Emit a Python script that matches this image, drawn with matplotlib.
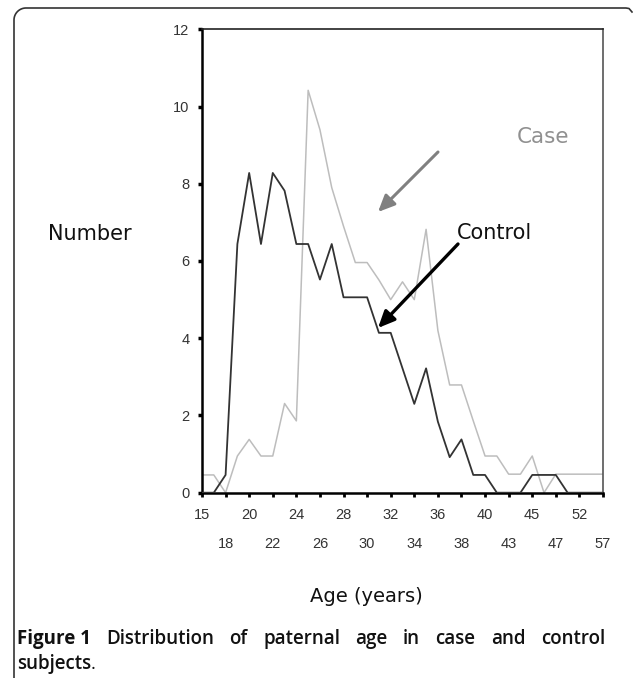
import numpy as np
import matplotlib
matplotlib.use("Agg")
from matplotlib import pyplot as plt

# age categories (categorical x axis, every other one labelled)
ages = ["15", "17", "18", "19", "20", "21", "22", "23", "24", "25", "26", "27",
        "28", "29", "30", "31", "32", "33", "34", "35", "36", "37", "38", "39",
        "40", "42", "43", "44", "45", "46", "47", "50", "52", "55", "57"]

control = [0, 0, 0.46, 6.44, 8.28, 6.44, 8.28, 7.82, 6.44, 6.44, 5.52, 6.44,
           5.06, 5.06, 5.06, 4.14, 4.14, 3.22, 2.30, 3.22, 1.84, 0.92, 1.38, 0.46,
           0.46, 0, 0, 0, 0.46, 0.46, 0.46, 0, 0, 0, 0]

case = [0.46, 0.46, 0, 0.95, 1.38, 0.95, 0.95, 2.31, 1.86, 10.42, 9.4, 7.9,
        6.9, 5.96, 5.96, 5.51, 5.0, 5.46, 5.0, 6.82, 4.2, 2.79, 2.79, 1.86,
        0.95, 0.95, 0.48, 0.48, 0.95, 0, 0.48, 0.48, 0.48, 0.48, 0.48]

W, H = 633, 678
fig = plt.figure(figsize=(W / 100, H / 100), dpi=100)
ax = fig.add_axes([202 / W, 1 - 492.7 / H, 401 / W, 463.4 / H])

x = np.arange(len(ages))
ax.plot(x, case, color="#bdbdbd", lw=1.1, zorder=2)
ax.plot(x, control, color="#333333", lw=1.3, zorder=3)

ax.set_xlim(0, len(ages) - 1)
ax.set_ylim(0, 12)

tick_font = "Liberation Sans"
ax.set_yticks(range(0, 13, 2))
ax.tick_params(axis="y", direction="out", length=3, width=2.5, pad=6,
               labelsize=10.5, colors="black", labelcolor="#333333")

# two rows of x labels
top = x[0::4]
bottom = x[2::4]
ax.set_xticks(top)
ax.set_xticklabels([ages[i] for i in top])
ax.set_xticks(bottom, minor=True)
ax.set_xticklabels([ages[i] for i in bottom], minor=True)
ax.tick_params(axis="x", which="major", direction="out", length=3, width=2,
               pad=8, labelsize=10.5, labelcolor="#333333")
ax.tick_params(axis="x", which="minor", direction="out", length=3, width=2,
               pad=29, labelsize=10.5, labelcolor="#333333")
for lbl in ax.get_xticklabels(which="both") + ax.get_yticklabels():
    lbl.set_family(tick_font)

for s in ["left", "bottom"]:
    ax.spines[s].set_linewidth(1.8)
    ax.spines[s].set_color("black")
ax.spines["top"].set_linewidth(1.2)
ax.spines["top"].set_color("#222222")
ax.spines["right"].set_linewidth(1.2)
ax.spines["right"].set_color("#555555")


def fx(px):
    return px / W


def fy(py):
    return 1 - py / H


lab_font = "DejaVu Sans"
fig.text(fx(90), fy(234), "Number", fontsize=15, family=lab_font,
         ha="center", va="center", color="#111111")
fig.text(fx(366), fy(597), "Age (years)", fontsize=14, family=lab_font,
         ha="center", va="center", color="#111111")
fig.text(fx(543), fy(137), "Case", fontsize=15.5, family=lab_font,
         ha="center", va="center", color="#909090")
fig.text(fx(494), fy(233), "Control", fontsize=15, family=lab_font,
         ha="center", va="center", color="#111111")

# arrows
ax.annotate("", xy=(fx(378), fy(212)), xytext=(fx(438), fy(152)),
            xycoords="figure fraction", textcoords="figure fraction",
            arrowprops=dict(arrowstyle="-|>,head_length=1.0,head_width=0.45",
                            color="#808080", lw=2.2, shrinkA=0, shrinkB=0))
ax.annotate("", xy=(fx(378), fy(328)), xytext=(fx(458), fy(244)),
            xycoords="figure fraction", textcoords="figure fraction",
            arrowprops=dict(arrowstyle="-|>,head_length=1.0,head_width=0.45",
                            color="black", lw=2.4, shrinkA=0, shrinkB=0))

# frame
r = 12
t = np.linspace(np.pi, np.pi / 2, 20)
fx_pts = [14] + list(14 + r + r * np.cos(t)) + [626]
fy_pts = [H] + list(8 + r - r * np.sin(t)) + [8]
fx_pts += [629, 632]
fy_pts += [8.5, 12]
fig.add_artist(plt.Line2D([fx(p) for p in fx_pts], [fy(p) for p in fy_pts],
                          transform=fig.transFigure, color="#333333", lw=1.2))

# caption
cap_font = ["Open Sans", "DejaVu Sans"]
cap_size = 13.5
line1 = ["Distribution", "of", "paternal", "age", "in", "case", "and", "control"]
fig.canvas.draw()
rend = fig.canvas.get_renderer()
t0 = fig.text(fx(17), fy(644), "Figure 1", fontsize=cap_size, family=cap_font,
              weight="bold", color="#111111", va="baseline")
words = [fig.text(0, fy(644), w, fontsize=cap_size, family=cap_font,
                  weight="semibold", color="#111111", va="baseline") for w in line1]
w0 = t0.get_window_extent(rend).width
widths = [w.get_window_extent(rend).width for w in words]
gap = (605 - 17 - w0 - sum(widths)) / len(words)
pos = 17 + w0 + gap
for w, wd in zip(words, widths):
    w.set_x(fx(pos))
    pos += wd + gap
s1 = fig.text(fx(17), fy(669), "subjects", fontsize=cap_size, family=cap_font,
              weight="semibold", color="#111111", va="baseline")
sw = s1.get_window_extent(rend).width
fig.text(fx(17 + sw - 1), fy(669), ".", fontsize=cap_size, family=cap_font,
         color="#111111", va="baseline")

fig.savefig("out.png", dpi=100)
